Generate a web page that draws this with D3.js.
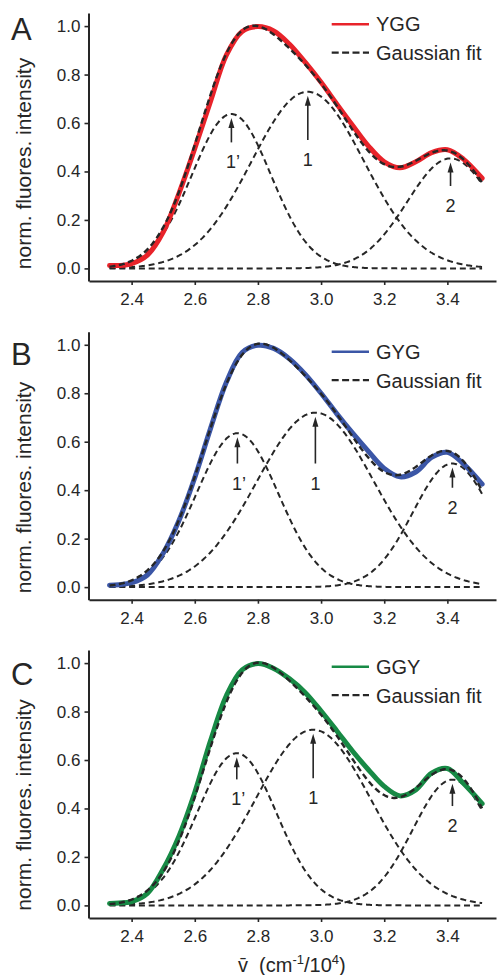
<!DOCTYPE html>
<html><head><meta charset="utf-8">
<script src="https://cdn.jsdelivr.net/npm/d3@7"></script>
<style>html,body{margin:0;padding:0;background:#fff;} svg{display:block;font-family:"Liberation Sans",Arial,Helvetica,sans-serif;}</style>
</head><body><svg id="chart" width="498" height="975"></svg>
<script>
// ---- data ----
const wavenumbers   = [2.33,2.36,2.40,2.45,2.50,2.55,2.60,2.65,2.70,2.75,2.80,2.85,2.90,2.95,3.00,3.05,3.10,3.15,3.20,3.25,3.30,3.35,3.40,3.45,3.51];
const yggIntensity  = [0.012,0.012,0.02,0.055,0.15,0.31,0.495,0.69,0.88,0.978,0.998,0.98,0.925,0.85,0.768,0.678,0.59,0.505,0.44,0.415,0.44,0.478,0.49,0.452,0.372];
const gygIntensity  = [0.008,0.01,0.018,0.05,0.14,0.275,0.452,0.655,0.845,0.968,0.998,0.985,0.942,0.878,0.80,0.715,0.635,0.56,0.49,0.455,0.475,0.535,0.556,0.51,0.425];
const ggyIntensity  = [0.008,0.01,0.016,0.05,0.15,0.286,0.466,0.68,0.865,0.972,0.998,0.978,0.935,0.878,0.802,0.72,0.636,0.56,0.491,0.452,0.477,0.546,0.565,0.505,0.42];

const sampleNames  = ["YGG","GYG","GGY"];
const panelLetters = ["A","B","C"];
const peakLabels   = ["1\u2019","1","2"];

// Gaussian components (centre, height, width) for peaks 1', 1, 2
const yggPeakCenters = [2.716,2.958,3.410];
const yggPeakHeights = [0.637,0.729,0.454];
const yggPeakWidths  = [0.125,0.178,0.137];
const gygPeakCenters = [2.735,2.982,3.416];
const gygPeakHeights = [0.635,0.720,0.510];
const gygPeakWidths  = [0.130,0.185,0.125];
const ggyPeakCenters = [2.733,2.975,3.416];
const ggyPeakHeights = [0.628,0.725,0.519];
const ggyPeakWidths  = [0.126,0.182,0.125];

// arrow tail values (intensity units) for peaks 1', 1, 2
const yggArrowTails = [0.52,0.53,0.34];
const gygArrowTails = [0.51,0.51,0.41];
const ggyArrowTails = [0.52,0.525,0.41];

const xTickValues = [2.4,2.6,2.8,3.0,3.2,3.4];
const yTickValues = [0.0,0.2,0.4,0.6,0.8,1.0];
const fitRange = [2.33,3.51];

// ---- layout / style ----
const colors = ["#e8232a","#3b56a6","#178a45"];
const ink = "#262626";
const panelTops = [13,331.7,650];
const plotH = 268;
const xLeft = 89, xRight = 496;
const legendOff = [11.3,20,16.7];
const letterOff = [27,33.3,35];
const titleOff  = [150.5,155.8,155];

const panels = [
  {name:sampleNames[0], data:yggIntensity, c:yggPeakCenters, h:yggPeakHeights, w:yggPeakWidths, tails:yggArrowTails},
  {name:sampleNames[1], data:gygIntensity, c:gygPeakCenters, h:gygPeakHeights, w:gygPeakWidths, tails:gygArrowTails},
  {name:sampleNames[2], data:ggyIntensity, c:ggyPeakCenters, h:ggyPeakHeights, w:ggyPeakWidths, tails:ggyArrowTails}
];

const svg = d3.select("#chart");
const x = d3.scaleLinear().domain([2.265,3.554]).range([xLeft,xRight]);
const grid = d3.range(fitRange[0], fitRange[1]+1e-9, 0.004);

panels.forEach((p,i)=>{
  const top = panelTops[i];
  const y = d3.scaleLinear().domain([-0.052,1.054]).range([top+plotH, top]);
  const g = svg.append("g");

  const gauss = (k,v)=> p.h[k]*Math.exp(-((v-p.c[k])**2)/(2*p.w[k]*p.w[k]));
  const line = d3.line().x(d=>x(d[0])).y(d=>y(d[1])).curve(d3.curveCatmullRom);

  // components
  [0,1,2].forEach(k=>{
    g.append("path").datum(grid.map(v=>[v,gauss(k,v)]))
      .attr("d",line).attr("fill","none").attr("stroke",ink)
      .attr("stroke-width",2).attr("stroke-dasharray","6,3.8");
  });

  // measured spectrum
  g.append("path").datum(wavenumbers.map((v,j)=>[v,p.data[j]]))
    .attr("d",line).attr("fill","none").attr("stroke",colors[i])
    .attr("stroke-width",5).attr("stroke-linejoin","round").attr("stroke-linecap","round");

  // Gaussian fit (sum)
  g.append("path").datum(grid.map(v=>[v,gauss(0,v)+gauss(1,v)+gauss(2,v)]))
    .attr("d",line).attr("fill","none").attr("stroke",ink)
    .attr("stroke-width",2.4).attr("stroke-dasharray","6,3.5");

  // arrows + labels
  [0,1,2].forEach(k=>{
    const ax = x(p.c[k]);
    const tipY = y(p.h[k]) + 4;
    const tailY = y(p.tails[k]);
    g.append("line").attr("x1",ax).attr("x2",ax).attr("y1",tailY).attr("y2",tipY+6)
      .attr("stroke",ink).attr("stroke-width",1.6);
    g.append("path").attr("d",`M${ax},${tipY} L${ax-3},${tipY+10} L${ax+3},${tipY+10} Z`).attr("fill",ink);
    g.append("text").attr("x",ax+(k===0?1.5:0)).attr("y",tailY+26).attr("text-anchor","middle")
      .attr("font-size",18).attr("fill",ink).text(peakLabels[k]);
  });

  // axes
  const yAxis = d3.axisLeft(y).tickValues(yTickValues).tickFormat(d3.format(".1f")).tickSize(4).tickSizeOuter(0).tickPadding(4);
  const ga = svg.append("g").attr("transform",`translate(${xLeft-0.5},0)`).call(yAxis);
  const xAxis = d3.axisBottom(x).tickValues(xTickValues).tickFormat(d3.format(".1f")).tickSize(4).tickSizeOuter(0).tickPadding(8);
  const gb = svg.append("g").attr("transform",`translate(0,${top+plotH})`).call(xAxis);
  [ga,gb].forEach(a=>{
    a.select(".domain").attr("stroke",ink).attr("stroke-width",2);
    a.selectAll(".tick line").attr("stroke",ink).attr("stroke-width",1.6);
    a.selectAll(".tick text").attr("fill",ink).attr("font-size",17).attr("font-family","Liberation Sans, Arial, sans-serif");
  });

  // y title
  svg.append("text").attr("transform",`translate(30.5,${top+titleOff[i]}) rotate(-90)`)
    .attr("text-anchor","middle").attr("font-size",21).attr("fill",ink).text("norm. fluores. intensity");

  // panel letter
  svg.append("text").attr("x",11).attr("y",top+letterOff[i]).attr("font-size",31).attr("fill",ink).text(panelLetters[i]);

  // legend
  const ly = top+legendOff[i];
  svg.append("line").attr("x1",331.7).attr("x2",369).attr("y1",ly).attr("y2",ly).attr("stroke",colors[i]).attr("stroke-width",2.6);
  svg.append("text").attr("x",376).attr("y",ly+7).attr("font-size",20).attr("fill",ink).text(p.name);
  const ly2 = ly+28.4;
  svg.append("line").attr("x1",331.7).attr("x2",369).attr("y1",ly2).attr("y2",ly2).attr("stroke",ink).attr("stroke-width",2.2).attr("stroke-dasharray","7,3.4");
  svg.append("text").attr("x",376).attr("y",ly2+7.5).attr("font-size",20).attr("fill",ink).text("Gaussian fit");
});

// x title
const xt = svg.append("text").attr("x",238).attr("y",971.5).attr("font-size",20).attr("fill",ink);
xt.append("tspan").text("v\u0304\u00a0\u00a0(cm");
xt.append("tspan").attr("font-size",13).attr("dy",-8).text("-1");
xt.append("tspan").attr("dy",8).text("/10");
xt.append("tspan").attr("font-size",13).attr("dy",-8).text("4");
xt.append("tspan").attr("dy",8).text(")");
</script></body></html>
